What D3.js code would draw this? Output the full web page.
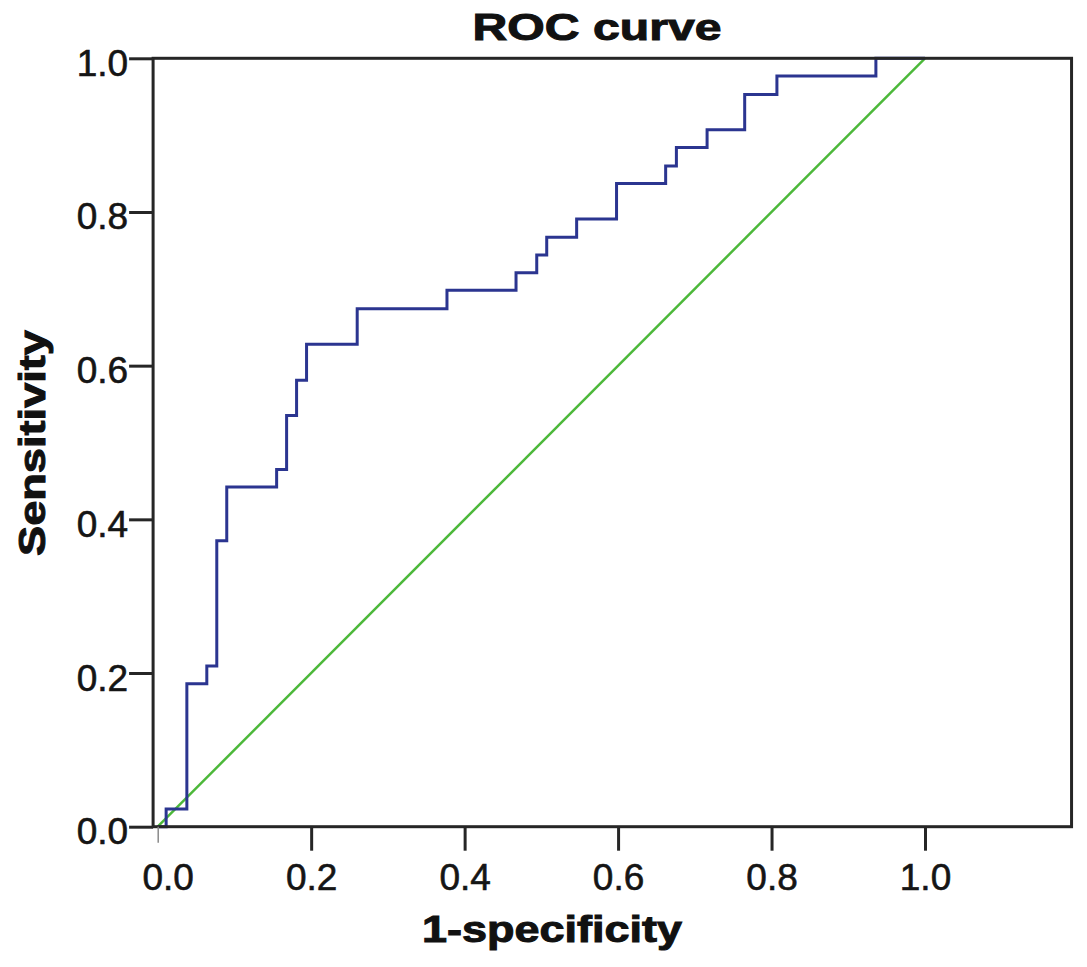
<!DOCTYPE html>
<html>
<head>
<meta charset="utf-8">
<script src="https://cdn.jsdelivr.net/npm/d3@7"></script>
<style>
    html, body { margin: 0; padding: 0; background: #fff; }
    svg { display: block; font-family: "Liberation Sans", Arial, Helvetica, sans-serif; }
</style>
</head>
<body>
<svg id="rocSvg" width="1087" height="967"></svg>
<script>
// ROC operating points (1 - specificity, sensitivity)
const falsePositiveRate = [0, 0.011, 0.038, 0.064, 0.077, 0.090, 0.155, 0.168, 0.181, 0.194,
    0.260, 0.377, 0.467, 0.494, 0.507, 0.546, 0.598, 0.662, 0.676, 0.716, 0.765, 0.807, 0.936, 1.0];
const sensitivity = [0, 0.023, 0.186, 0.209, 0.372, 0.442, 0.465, 0.535, 0.581, 0.628,
    0.674, 0.698, 0.721, 0.744, 0.767, 0.791, 0.837, 0.860, 0.884, 0.907, 0.953, 0.977, 1.0, 1.0];

// Chance diagonal
const referenceLine = [0, 1];

// Tick labels
const xTicks = [0, 0.2, 0.4, 0.6, 0.8, 1.0];
const yTicks = [0, 0.2, 0.4, 0.6, 0.8, 1.0];

const titleText = "ROC curve";
const xLabelText = "1-specificity";
const yLabelText = "Sensitivity";

// Layout
const chart = {
    xZero: 157.7,
    xOne: 925,
    yZero: 826.7,
    yOne: 58.3,
    xMin: -0.006,
    xMax: 1.191,
    tickSize: 24,
    frameColor: "#262626",
    frameWidth: 3,
    curveColor: "#2b3590",
    curveWidth: 3,
    diagColor: "#4cb83a",
    diagWidth: 2.5,
    tickFont: 37,
    labelFont: 37
};

const svg = d3.select("#rocSvg");

const x = d3.scaleLinear().domain([0, 1]).range([chart.xZero, chart.xOne]);
const y = d3.scaleLinear().domain([0, 1]).range([chart.yZero, chart.yOne]);

const frameLeft = x(chart.xMin);
const frameRight = x(chart.xMax);

// Diagonal reference line
svg.append("line")
    .attr("x1", x(referenceLine[0]))
    .attr("y1", y(referenceLine[0]))
    .attr("x2", x(referenceLine[1]))
    .attr("y2", y(referenceLine[1]))
    .attr("stroke", chart.diagColor)
    .attr("stroke-width", chart.diagWidth);

// ROC step curve
const rocPoints = falsePositiveRate.map((fpr, i) => [fpr, sensitivity[i]]);
const rocLine = d3.line()
    .x(d => x(d[0]))
    .y(d => y(d[1]))
    .curve(d3.curveStepAfter);

svg.append("path")
    .datum(rocPoints)
    .attr("d", rocLine)
    .attr("fill", "none")
    .attr("stroke", chart.curveColor)
    .attr("stroke-width", chart.curveWidth)
    .attr("stroke-linejoin", "miter");

// Plot frame
svg.append("rect")
    .attr("x", frameLeft)
    .attr("y", y(1))
    .attr("width", frameRight - frameLeft)
    .attr("height", y(0) - y(1))
    .attr("fill", "none")
    .attr("stroke", chart.frameColor)
    .attr("stroke-width", chart.frameWidth);

// X axis
const xAxis = svg.append("g")
    .attr("transform", `translate(0, ${y(0)})`)
    .call(d3.axisBottom(x)
        .tickValues(xTicks)
        .tickSize(chart.tickSize)
        .tickFormat(d3.format(".1f")));

xAxis.select(".domain").remove();
xAxis.selectAll(".tick line")
    .attr("stroke", chart.frameColor)
    .attr("stroke-width", chart.frameWidth);
// the 0.0 tick is drawn thin and grey in the original
xAxis.selectAll(".tick line").filter(d => d === 0)
    .attr("stroke", "#8a8a8a")
    .attr("stroke-width", 1.5)
    .attr("y2", 16);
xAxis.selectAll(".tick text")
    .attr("y", 63)
    .attr("dy", 0)
    .attr("font-size", chart.tickFont)
    .attr("font-family", "Liberation Sans, Arial, sans-serif")
    .attr("fill", "#151515")
    .attr("stroke", "#151515")
    .attr("stroke-width", 0.6);
xAxis.selectAll(".tick text").filter(d => d === 0)
    .attr("dx", 10);

// Y axis
const yAxis = svg.append("g")
    .attr("transform", `translate(${frameLeft}, 0)`)
    .call(d3.axisLeft(y)
        .tickValues(yTicks)
        .tickSize(chart.tickSize)
        .tickFormat(d3.format(".1f")));

yAxis.select(".domain").remove();
yAxis.selectAll(".tick line")
    .attr("stroke", chart.frameColor)
    .attr("stroke-width", chart.frameWidth);
yAxis.selectAll(".tick text")
    .attr("x", -25)
    .attr("dy", 17)
    .attr("font-size", chart.tickFont)
    .attr("font-family", "Liberation Sans, Arial, sans-serif")
    .attr("fill", "#151515")
    .attr("stroke", "#151515")
    .attr("stroke-width", 0.6);

// Bold titles share one style
function boldLabel(sel, width) {
    sel.attr("text-anchor", "middle")
        .attr("font-size", chart.labelFont)
        .attr("font-weight", "bold")
        .attr("fill", "#111")
        .attr("stroke", "#111")
        .attr("stroke-width", 1)
        .attr("textLength", width)
        .attr("lengthAdjust", "spacingAndGlyphs");
}

// Title
svg.append("text")
    .attr("x", 597)
    .attr("y", 40)
    .call(boldLabel, 249)
    .text(titleText);

// X axis title
svg.append("text")
    .attr("x", 552)
    .attr("y", 942)
    .call(boldLabel, 260)
    .text(xLabelText);

// Y axis title
svg.append("text")
    .attr("transform", `translate(45, 443) rotate(-90)`)
    .call(boldLabel, 226)
    .text(yLabelText);
</script>
</body>
</html>
